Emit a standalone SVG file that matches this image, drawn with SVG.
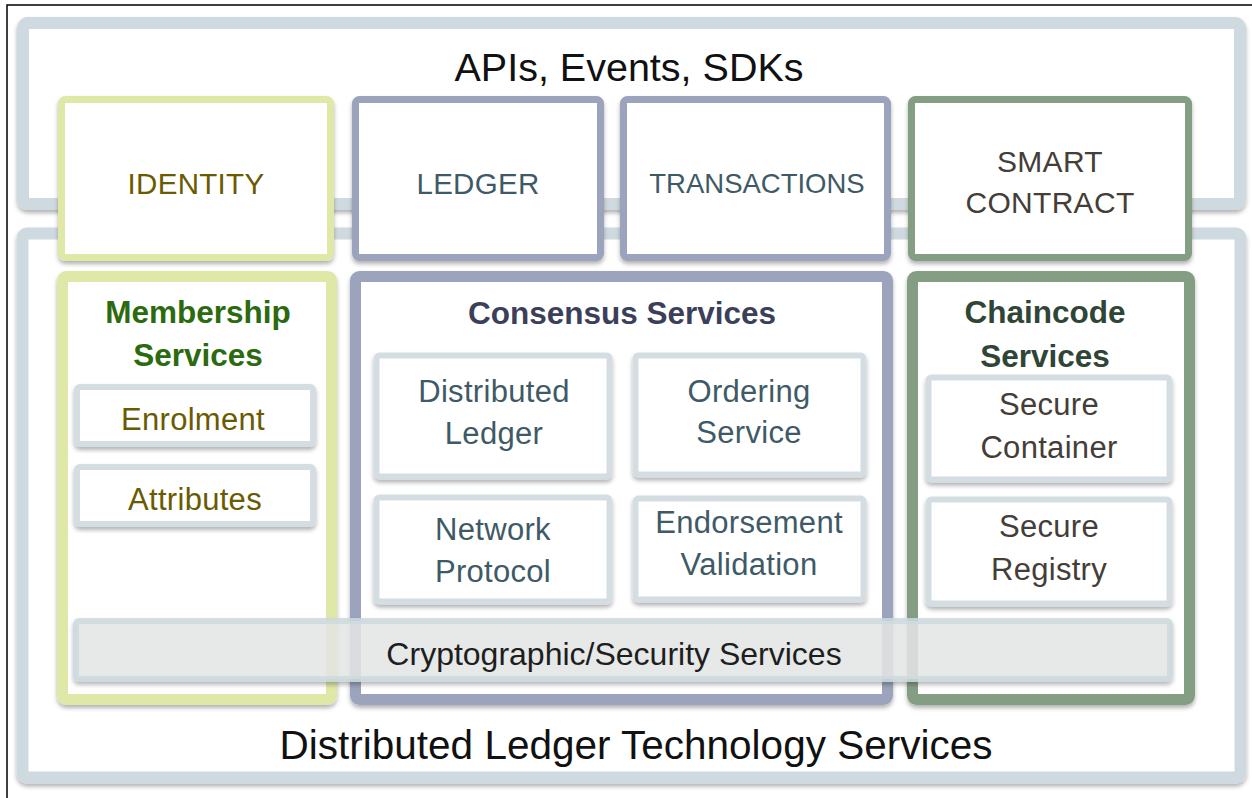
<svg xmlns="http://www.w3.org/2000/svg" width="1252" height="798" viewBox="0 0 1252 798">
<defs>
<filter id="sh" x="-10%" y="-10%" width="120%" height="130%">
<feDropShadow dx="0" dy="3" stdDeviation="2" flood-color="#000" flood-opacity="0.3"/>
</filter>
<style>
text{font-family:"Liberation Sans",Arial,Helvetica,sans-serif;text-anchor:middle}
.panel{fill:#fff;stroke:#cfdae0;stroke-width:12}
.idb{fill:#fff;stroke:#dfe8a6}
.ldb{fill:#fff;stroke:#9ba4bc}
.scb{fill:#fff;stroke:#849e84}
.sub{fill:#fff;stroke:#d3dde2;stroke-width:6}
.big{font-size:40.5px;fill:#111}
.lab{font-size:31px;letter-spacing:0.3px}
.up{font-size:29.5px;letter-spacing:0.3px}
.olive{fill:#6a5a00}
.slate{fill:#3e5a66}
.brown{fill:#443d38}
.ttl{font-size:31.5px;font-weight:bold}
</style>
</defs>
<rect x="7" y="5" width="1260" height="810" fill="#fff" stroke="#000" stroke-width="1.5"/>
<g id="apis-panel">
<rect class="panel" x="23" y="23" width="1217" height="181" rx="5" filter="url(#sh)"/>
<text class="big" x="629" y="81" style="font-size:39.5px">APIs, Events, SDKs</text>
</g>
<g id="dlt-panel">
<rect class="panel" x="22.5" y="233.5" width="1218" height="544" rx="5" stroke-width="11" filter="url(#sh)"/>
<text class="big" x="636" y="759">Distributed Ledger Technology Services</text>
</g>
<g id="identity">
<rect class="idb" x="61.5" y="99.5" width="269" height="158" rx="4" stroke-width="7" filter="url(#sh)"/>
<text class="up olive" x="196" y="194">IDENTITY</text>
</g>
<g id="ledger">
<rect class="ldb" x="355.5" y="99.5" width="245" height="158" rx="4" stroke-width="7" filter="url(#sh)"/>
<text class="up slate" x="478" y="194">LEDGER</text>
</g>
<g id="transactions">
<rect class="ldb" x="623.5" y="99.5" width="264" height="158" rx="4" stroke-width="7" filter="url(#sh)"/>
<text class="slate" x="757" y="193" style="font-size:27.5px">TRANSACTIONS</text>
</g>
<g id="smart-contract">
<rect class="scb" x="911.5" y="99.5" width="277" height="158" rx="4" stroke-width="7" filter="url(#sh)"/>
<text class="lab brown" x="1050" y="172" style="font-size:30px">SMART</text>
<text class="lab brown" x="1050" y="213" style="font-size:30px">CONTRACT</text>
</g>
<g id="membership">
<rect class="idb" x="62.5" y="276.5" width="269" height="423" rx="4" stroke-width="11" filter="url(#sh)"/>
<text class="ttl" x="198" y="323" fill="#2c6a10">Membership</text>
<text class="ttl" x="198" y="366" fill="#2c6a10">Services</text>
</g>
<g id="enrolment">
<rect class="sub" x="77" y="387" width="236" height="57" rx="3" filter="url(#sh)"/>
<text class="lab olive" x="193" y="430">Enrolment</text>
</g>
<g id="attributes">
<rect class="sub" x="77" y="467" width="236" height="57" rx="3" filter="url(#sh)"/>
<text class="lab olive" x="195" y="510">Attributes</text>
</g>
<g id="consensus">
<rect class="ldb" x="355.5" y="276.5" width="532" height="423" rx="4" stroke-width="11" filter="url(#sh)"/>
<text class="ttl" x="622" y="324" fill="#3c3f5a">Consensus Services</text>
</g>
<g id="distributed-ledger">
<rect class="sub" x="376.5" y="355.5" width="233" height="121" rx="3" filter="url(#sh)"/>
<text class="lab slate" x="494" y="402">Distributed</text>
<text class="lab slate" x="494" y="444">Ledger</text>
</g>
<g id="ordering-service">
<rect class="sub" x="635.5" y="355.5" width="228" height="119" rx="3" filter="url(#sh)"/>
<text class="lab slate" x="749" y="402">Ordering</text>
<text class="lab slate" x="749" y="443">Service</text>
</g>
<g id="network-protocol">
<rect class="sub" x="376.5" y="497.5" width="233" height="104" rx="3" filter="url(#sh)"/>
<text class="lab slate" x="493" y="540">Network</text>
<text class="lab slate" x="493" y="582">Protocol</text>
</g>
<g id="endorsement-validation">
<rect class="sub" x="635.5" y="498.5" width="228" height="101" rx="3" filter="url(#sh)"/>
<text class="lab slate" x="749" y="533">Endorsement</text>
<text class="lab slate" x="749" y="575">Validation</text>
</g>
<g id="chaincode">
<rect class="scb" x="912.5" y="276.5" width="277" height="423" rx="4" stroke-width="11" filter="url(#sh)"/>
<text class="ttl" x="1045" y="323" fill="#2f4535">Chaincode</text>
<text class="ttl" x="1045" y="367" fill="#2f4535">Services</text>
</g>
<g id="secure-container">
<rect class="sub" x="928.5" y="377.5" width="241" height="102" rx="3" filter="url(#sh)"/>
<text class="lab brown" x="1049" y="415">Secure</text>
<text class="lab brown" x="1049" y="458">Container</text>
</g>
<g id="secure-registry">
<rect class="sub" x="928.5" y="499.5" width="241" height="104" rx="3" filter="url(#sh)"/>
<text class="lab brown" x="1049" y="537">Secure</text>
<text class="lab brown" x="1049" y="580">Registry</text>
</g>
<g id="crypto">
<rect x="76" y="621" width="1094" height="58" rx="3" fill="#e9eaea" fill-opacity="0.82" stroke="#cdd9de" stroke-opacity="0.85" stroke-width="6" filter="url(#sh)"/>
<text x="614" y="665" style="font-size:32px" fill="#1e1e1e">Cryptographic/Security Services</text>
</g>
</svg>
